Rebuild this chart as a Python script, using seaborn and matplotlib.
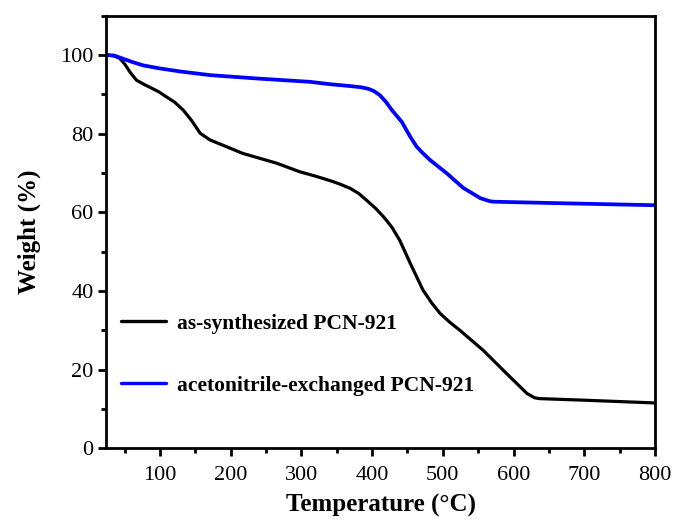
import matplotlib
matplotlib.use("Agg")
import matplotlib.pyplot as plt
from matplotlib.ticker import MultipleLocator
import seaborn as sns
import pandas as pd

# TGA curves (temperature in °C, residual weight in %)
temp_as = [25, 35, 43, 50, 58, 67, 78, 86, 98, 109, 121, 133, 145, 157, 171, 190,
           217, 240, 265, 298, 320, 345, 357, 369, 381, 392, 405, 416, 428, 439,
           454, 472, 484, 496, 510, 524, 557, 590, 619, 630, 637, 700, 800]
weight_as = [100, 99.8, 99.2, 97.8, 95.6, 93.6, 92.5, 91.8, 90.7, 89.4, 88.0, 86.0,
             83.3, 80.1, 78.4, 77.0, 75.0, 73.8, 72.5, 70.3, 69.2, 67.8, 67.0,
             66.1, 64.8, 63.1, 61.0, 58.9, 56.2, 52.9, 47.0, 40.2, 37.0, 34.3,
             32.0, 30.0, 24.9, 19.0, 13.9, 12.8, 12.6, 12.2, 11.5]

temp_ace = [25, 35, 43, 60, 76, 100, 130, 171, 241, 312, 340, 370, 385, 395, 403,
            411, 420, 428, 442, 454, 463, 472, 482, 505, 529, 553, 565, 571, 670, 800]
weight_ace = [100, 99.9, 99.4, 98.3, 97.4, 96.6, 95.8, 94.9, 94.0, 93.2, 92.6, 92.1,
              91.8, 91.4, 90.8, 89.8, 88.0, 86.0, 83.0, 79.2, 76.7, 75.0, 73.3,
              70.0, 66.2, 63.6, 62.9, 62.7, 62.3, 61.8]

labels = ["as-synthesized PCN-921", "acetonitrile-exchanged PCN-921"]
colors = ["#000000", "#0000ff"]

x_ticks = [100, 200, 300, 400, 500, 600, 700, 800]
y_ticks = [0, 20, 40, 60, 80, 100]

df_as = pd.DataFrame({"T": temp_as, "W": weight_as})
df_ace = pd.DataFrame({"T": temp_ace, "W": weight_ace})

sns.set_style("ticks")
plt.rcParams["font.family"] = ["Liberation Serif", "DejaVu Serif"]
plt.rcParams["text.color"] = "black"
plt.rcParams["axes.labelcolor"] = "black"
plt.rcParams["xtick.color"] = "black"
plt.rcParams["ytick.color"] = "black"

fig = plt.figure(figsize=(6.76, 5.26), dpi=100)
ax = fig.add_axes([0.157, 0.148, 0.812, 0.822])

sns.lineplot(data=df_as, x="T", y="W", color=colors[0], linewidth=2.3,
             label=labels[0], ax=ax, sort=False)
sns.lineplot(data=df_ace, x="T", y="W", color=colors[1], linewidth=2.7,
             label=labels[1], ax=ax, sort=False)

ax.set_xlim(24, 800)
ax.set_ylim(0, 110)
ax.set_xticks(x_ticks)
ax.set_yticks(y_ticks)
ax.xaxis.set_minor_locator(MultipleLocator(50))
ax.yaxis.set_minor_locator(MultipleLocator(10))

for side in ["left", "right", "top", "bottom"]:
    ax.spines[side].set_linewidth(2.0)
    ax.spines[side].set_color("black")

ax.tick_params(which="major", direction="out", length=6, width=2.0,
               labelsize=16, pad=3, colors="black")
ax.tick_params(which="minor", direction="out", length=3.5, width=2.0,
               colors="black")
ax.tick_params(axis="x", pad=7)

ax.set_xlabel("Temperature (°C)", fontsize=18, fontweight="bold", labelpad=6,
              color="black")
ax.set_ylabel("Weight (%)", fontsize=18, fontweight="bold", labelpad=14,
              color="black")

leg = ax.legend(loc="center left", bbox_to_anchor=(0.027, 0.216), frameon=False,
                prop={"weight": "bold", "size": 15.5}, handlelength=2.1,
                handletextpad=0.5, labelspacing=1.95, borderpad=0,
                borderaxespad=0)
for text in leg.get_texts():
    text.set_color("black")
for line in leg.get_lines():
    line.set_linewidth(2.4)

fig.savefig("out.png", dpi=100)
